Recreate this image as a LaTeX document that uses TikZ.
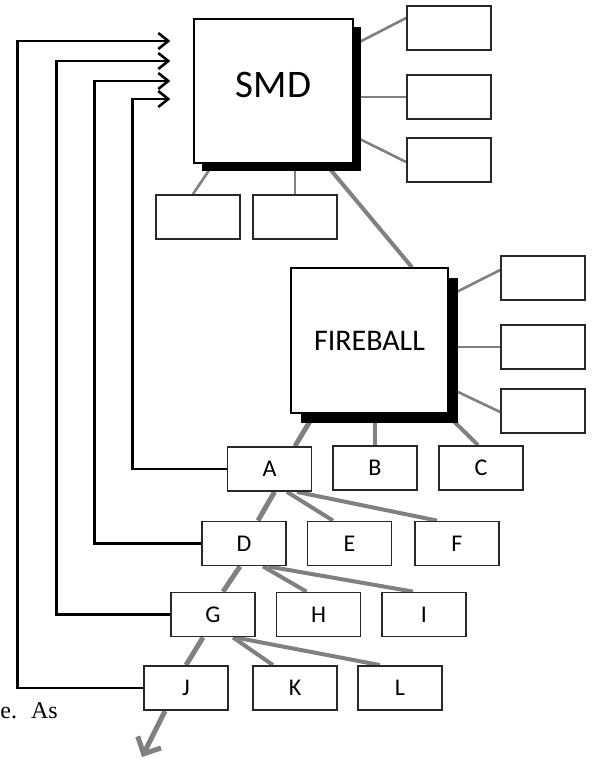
\documentclass[tikz,border=0pt]{standalone}
\usepackage{fontspec}
\setmainfont{Carlito}
\newfontfamily\bodyserif{Liberation Serif}
\usetikzlibrary{arrows.meta,backgrounds,shadows}

\definecolor{TreeGray}{RGB}{128,128,128}
\definecolor{BoxEdge}{RGB}{40,40,40}

\begin{document}
\begin{tikzpicture}[x=1pt,y=-1pt,
  leaf/.style={draw=BoxEdge,line width=1.8pt,fill=white,minimum width=84pt,
    minimum height=44pt,inner sep=0pt,font=\fontsize{24}{26}\selectfont},
  bigbox/.style={draw=black,line width=1.3pt,fill=white,inner sep=0pt,
    general shadow={fill=black,shadow xshift=#1,shadow yshift=-#1}},
  twig/.style={draw=TreeGray,line width=2.6pt},
  branch/.style={draw=TreeGray,line width=4pt},
  trunk/.style={draw=TreeGray,line width=5pt},
  feedback/.style={draw=black,line width=2.6pt,-{Straight Barb[length=10pt,width=16pt]}}]
  \useasboundingbox (0,0) rectangle (592,762);

  \node[bigbox=8pt,minimum width=159pt,minimum height=144pt,text depth=13pt,
    font=\fontsize{39}{40}\selectfont] (smd) at (273.5,91) {SMD};
  \node[bigbox=10pt,minimum width=157pt,minimum height=145pt,
    font=\fontsize{30}{32}\selectfont] (fireball) at (369.5,340.5) {FIREBALL};

  % unlabelled boxes round SMD and FIREBALL
  \foreach \nm/\cx/\cy in {smdA/449/28, smdB/449/97, smdC/449/160,
      smdD/198/217, smdE/295/217, fbA/543/278, fbB/543/347, fbC/543/411}
    \node[leaf] (\nm) at (\cx,\cy) {};

  \foreach \nm/\cx/\cy in {A/269.5/469, B/375/468, C/481/468,
      D/244/543.5, E/349.5/543.5, F/457/543.5,
      G/213/614.5, H/318.5/614.5, I/424/614.5,
      J/186/688, K/295/688, L/400/688}
    \node[leaf] (\nm) at (\cx,\cy) {\nm};

  \coordinate (onward) at (142,757);

  \begin{scope}[on background layer]
    \draw[twig] ([yshift=46pt]smd.east) -- ([yshift=10pt]smdA.west);
    \draw[twig] (smd.east |- smdB.west) -- (smdB.west);
    \draw[twig] ([yshift=-45pt]smd.east) -- ([yshift=-2pt]smdC.west);
    \draw[twig] ([xshift=-60pt]smd.south) -- ([xshift=-5pt]smdD.north);
    \draw[twig] (smdE.north |- smd.south) -- (smdE.north);
    \draw[branch] ([xshift=52pt]smd.south) -- ([xshift=42.5pt]fireball.north);

    \draw[twig] ([yshift=44.5pt]fireball.east) -- ([yshift=8pt]fbA.west);
    \draw[twig] (fireball.east |- fbB.west) -- (fbB.west);
    \draw[twig] ([yshift=-47pt]fireball.east) -- ([yshift=-1pt]fbC.west);
    \draw[trunk] ([xshift=-55pt]fireball.south) -- ([xshift=25.5pt]A.north);
    \draw[branch] (B.north |- fireball.south) -- (B.north);
    \draw[branch] ([xshift=76.5pt]fireball.south) -- ([xshift=-3pt]C.north);

    \draw[trunk] ([xshift=5pt]A.south) -- ([xshift=14pt]D.north);
    \draw[branch] ([xshift=17.5pt]A.south) -- ([xshift=-16.5pt]E.north);
    \draw[branch] ([xshift=27.5pt]A.south) -- ([xshift=-20pt]F.north);
    \draw[trunk] ([xshift=-4pt]D.south) -- ([xshift=10pt]G.north);
    \draw[branch] ([xshift=19pt]D.south) -- ([xshift=-12pt]H.north);
    \draw[branch] ([xshift=24pt]D.south) -- ([xshift=-11pt]I.north);
    \draw[trunk] ([xshift=-10pt]G.south) -- (J.north);
    \draw[branch] ([xshift=20pt]G.south) -- ([xshift=-22pt]K.north);
    \draw[branch] ([xshift=22pt]G.south) -- ([xshift=-20pt]L.north);
    \draw[trunk,-{Straight Barb[length=13pt,width=26pt]}]
      ([xshift=-21pt]J.south) -- (onward);
  \end{scope}

  % each level reports back to SMD
  \foreach \nm/\cx/\dy in {A/-61/-8, D/-99/10, G/-137/30, J/-176/50}
    \draw[feedback] (\nm.west) -| ([xshift=\cx pt,yshift=\dy pt]smd.west)
      -- ([xshift=-23pt,yshift=\dy pt]smd.west);

  \node[anchor=base east,inner sep=0pt,font=\bodyserif\fontsize{24}{28}\selectfont]
    (excerpt) at (58,718) {e.\hskip 14pt As};
\end{tikzpicture}
\end{document}
